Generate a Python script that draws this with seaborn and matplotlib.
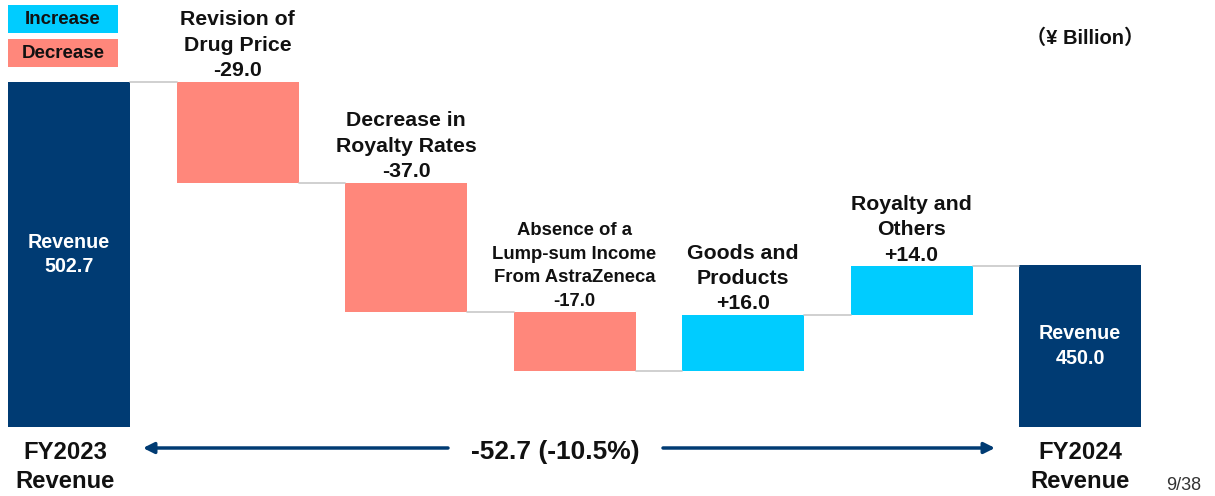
import matplotlib
matplotlib.use("Agg")
import matplotlib.pyplot as plt
import seaborn as sns
import pandas as pd
from matplotlib.patches import Rectangle

# ---- data ----
categories = ["FY2023", "Drug Price", "Royalty Rates", "AstraZeneca", "Goods", "Royalty Others", "FY2024"]
values = [502.7, -29.0, -37.0, -17.0, 16.0, 14.0, 450.0]
kinds = ["total", "dec", "dec", "dec", "inc", "inc", "total"]
top_labels = [
    None,
    "Revision of\nDrug Price\n-29.0",
    "Decrease in\nRoyalty Rates\n-37.0",
    "Absence of a\nLump-sum Income\nFrom AstraZeneca\n-17.0",
    "Goods and\nProducts\n+16.0",
    "Royalty and\nOthers\n+14.0",
    None,
]
inside_labels = ["Revenue\n502.7", None, None, None, None, None, "Revenue\n450.0"]
bottom_labels = ["FY2023\nRevenue", "FY2024\nRevenue"]
change_label = "-52.7 (-10.5%)"
unit_label = "（¥ Billion）"
legend_labels = ["Increase", "Decrease"]
page_label = "9/38"

NAVY = "#003B73"
SALMON = "#FF877B"
CYAN = "#00CCFF"
GRAY_LINE = "#C8C8C8"
color_map = {"total": NAVY, "dec": SALMON, "inc": CYAN}

# axis baseline (bars for totals start here)
BASE = 403.56
Y_MIN, Y_MAX = 383.73, 526.26

# running totals -> bottoms / tops
bottoms, tops = [], []
running = 0.0
for v, k in zip(values, kinds):
    if k == "total":
        bottoms.append(BASE)
        tops.append(v)
        running = v
    else:
        new = running + v
        bottoms.append(min(running, new))
        tops.append(max(running, new))
        running = new

df = pd.DataFrame({"cat": categories, "top": tops})

sns.set_theme(style="white")
plt.rcParams["font.family"] = ["Liberation Sans", "DejaVu Sans"]

fig = plt.figure(figsize=(12.15, 4.96), dpi=100)
ax = fig.add_axes([0, 0, 1, 1])

W = 0.724
sns.barplot(data=df, x="cat", y="top", hue="cat", palette=[color_map[k] for k in kinds],
            legend=False, width=W, ax=ax, saturation=1, linewidth=0)

# turn bars into floating waterfall bars
for p in ax.patches:
    idx = int(round(p.get_x() + p.get_width() / 2))
    p.set_y(bottoms[idx])
    p.set_height(tops[idx] - bottoms[idx])

ax.set_xlim(-0.4095, 6.801)
ax.set_ylim(Y_MIN, Y_MAX)
ax.axis("off")

# connector lines
running_levels = []
running = 0.0
for v, k in zip(values, kinds):
    running = v if k == "total" else running + v
    running_levels.append(running)
for i in range(len(values) - 1):
    lvl = running_levels[i]
    ax.plot([i + W / 2, i + 1 - W / 2], [lvl, lvl], color=GRAY_LINE, lw=1.2, zorder=1)

# labels above bars
for i, lab in enumerate(top_labels):
    if lab is None:
        continue
    long = lab.count("\n") >= 3
    fs = 13.3 if long else 15.3
    ls = 1.5 if long else 1.43
    ax.text(i, tops[i] + 0.5, lab, ha="center", va="bottom", fontsize=fs,
            fontweight="bold", color="#111111", linespacing=ls)

# labels inside total bars
for i, lab in enumerate(inside_labels):
    if lab is None:
        continue
    ax.text(i, (tops[i] + bottoms[i]) / 2, lab, ha="center", va="center", fontsize=14.2,
            fontweight="bold", color="white", linespacing=1.36)

H = 496.0
Wpx = 1215.0

def fx(px):
    return px / Wpx

def fy(py):
    return 1 - py / H

# bottom category labels
ax.text(fx(65), fy(467), bottom_labels[0], transform=ax.transAxes, ha="center", va="center",
        fontsize=17.2, fontweight="bold", color="#111111", linespacing=1.38)
ax.text(fx(1080), fy(467), bottom_labels[1], transform=ax.transAxes, ha="center", va="center",
        fontsize=17.2, fontweight="bold", color="#111111", linespacing=1.38)

# change label + arrows
ax.text(fx(555), fy(452), change_label, transform=ax.transAxes, ha="center", va="center",
        fontsize=19, fontweight="bold", color="#111111")
ax.annotate("", xy=(fx(143), fy(448)), xytext=(fx(448), fy(448)),
            xycoords="axes fraction", textcoords="axes fraction",
            arrowprops=dict(arrowstyle="-|>", color=NAVY, lw=2.5, mutation_scale=16,
                            shrinkA=0, shrinkB=0))
ax.annotate("", xy=(fx(995), fy(448)), xytext=(fx(663), fy(448)),
            xycoords="axes fraction", textcoords="axes fraction",
            arrowprops=dict(arrowstyle="-|>", color=NAVY, lw=2.5, mutation_scale=16,
                            shrinkA=0, shrinkB=0))

# unit label
ax.text(fx(1085), fy(38), unit_label, transform=ax.transAxes, ha="center", va="center",
        fontsize=14.5, fontweight="bold", family=["Liberation Sans", "Noto Sans CJK JP"],
        color="#111111")

# legend boxes
for j, (lab, col) in enumerate(zip(legend_labels, [CYAN, SALMON])):
    y0 = 5 + j * 34
    ax.add_patch(Rectangle((fx(8), fy(y0 + 28)), fx(110), 28 / H, transform=ax.transAxes,
                           facecolor=col, edgecolor="none", clip_on=False))
    ax.text(fx(63), fy(y0 + 14), lab, transform=ax.transAxes, ha="center", va="center",
            fontsize=13.5, fontweight="bold", color="#111111")

# page number
ax.text(fx(1184), fy(485), page_label, transform=ax.transAxes, ha="center", va="center",
        fontsize=13, color="#333333")

fig.savefig("out.png", dpi=100)
